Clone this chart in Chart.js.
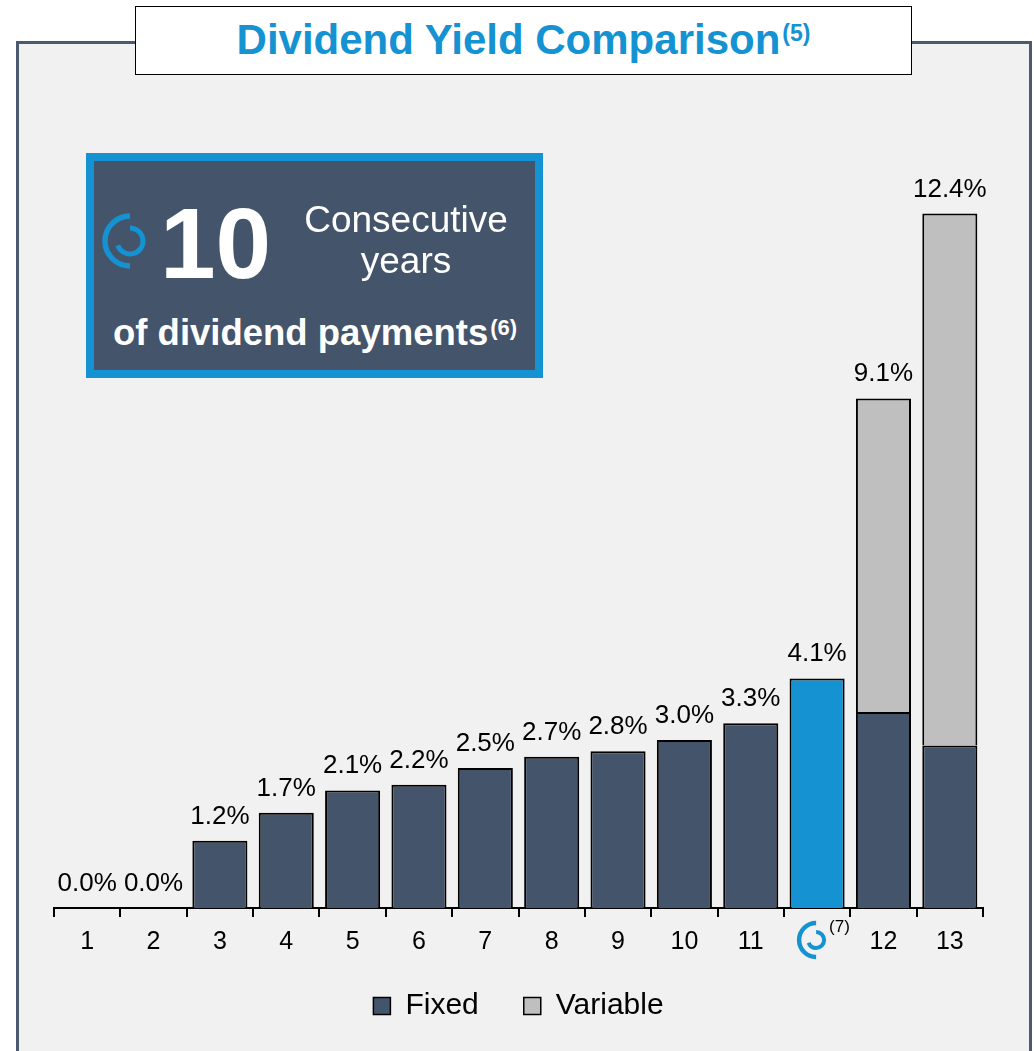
<!DOCTYPE html>
<html>
<head>
<meta charset="utf-8">
<script src="https://cdn.jsdelivr.net/npm/chart.js@4.4.0/dist/chart.umd.min.js"></script>
<style>
  html, body { margin: 0; padding: 0; background: #fff; }
  body { width: 1034px; height: 1051px; position: relative; overflow: hidden;
         font-family: "Liberation Sans", Arial, sans-serif; }
  .panel { position: absolute; left: 16px; top: 41px; width: 1010px; height: 1020px;
           background: #f1f1f1; border: 3px solid #4b5a6e; border-bottom: none; }
  #chart { position: absolute; left: 0; top: 0; }
  .title { position: absolute; left: 135px; top: 6px; width: 775px; height: 67px;
           background: #fff; border: 1.5px solid #000; text-align: center;
           color: #1592d2; font-weight: bold; font-size: 42px; line-height: 66px; }
  .title sup { font-size: 23px; position: relative; top: -13px; margin-left: 2px;
               vertical-align: baseline; line-height: 0; }
  .inset { position: absolute; left: 86px; top: 153px; width: 457px; height: 225px;
           box-sizing: border-box; border: 8px solid #1592d2; background: #44546a; }
  .txt { position: absolute; color: #fff; white-space: nowrap; }
  .big { left: 160px; top: 193px; font-size: 100px; line-height: 100px; font-weight: bold; }
  .cons { left: 256px; width: 300px; text-align: center; font-size: 37px; line-height: 37px; }
  .pay { left: 113px; top: 315px; font-size: 36.5px; line-height: 36px; font-weight: bold; }
  .pay sup { font-size: 22px; position: relative; top: -10px; margin-left: 2px;
             vertical-align: baseline; line-height: 0; }
  .logo { position: absolute; left: 0; top: 0; }
</style>
</head>
<body>
<div class="panel"></div>
<canvas id="chart" width="1034" height="1051"></canvas>
<div class="title">Dividend Yield Comparison<sup>(5)</sup></div>
<div class="inset"></div>
<svg class="logo" width="1034" height="400">
  <path d="M130 216 A25 25 0 0 0 130 266" fill="none" stroke="#1592d2" stroke-width="5.5"/>
  <path d="M130 228 A13 13 0 1 1 117.8 245.4" fill="none" stroke="#1592d2" stroke-width="5"/>
</svg>
<div class="txt big">10</div>
<div class="txt cons" style="top:201px">Consecutive</div>
<div class="txt cons" style="top:242px">years</div>
<div class="txt pay">of dividend payments<sup>(6)</sup></div>

<script>
// chart data
const categories = ['1', '2', '3', '4', '5', '6', '7', '8', '9', '10', '11', '', '12', '13'];
const fixedValues = [0, 0, 1.2, 1.7, 2.1, 2.2, 2.5, 2.7, 2.8, 3.0, 3.3, 4.1, 3.5, 2.9];
const variableValues = [0, 0, 0, 0, 0, 0, 0, 0, 0, 0, 0, 0, 5.6, 9.5];
const logoIndex = 11;
const logoNote = '(7)';

const DARK = '#44546a';
const BLUE = '#1592d2';
const GREY = '#bfbfbf';
const FONT = '"Liberation Sans", Arial, sans-serif';

const fixedColors = fixedValues.map((v, i) => i === logoIndex ? BLUE : DARK);

// totals above each stack
const totalLabelsPlugin = {
  id: 'totalLabels',
  afterDatasetsDraw(chart) {
    const { ctx, scales: { x, y } } = chart;
    ctx.save();
    ctx.font = '26px ' + FONT;
    ctx.fillStyle = '#000';
    ctx.textAlign = 'center';
    ctx.textBaseline = 'alphabetic';
    fixedValues.forEach((v, i) => {
      const total = v + variableValues[i];
      ctx.fillText(total.toFixed(1) + '%', x.getPixelForValue(i), y.getPixelForValue(total) - 17);
    });
    ctx.restore();
  }
};

// company logo in place of the tick label
const logoTickPlugin = {
  id: 'logoTick',
  afterDraw(chart) {
    const { ctx, scales: { x } } = chart;
    const cx = x.getPixelForValue(logoIndex) - 1;
    const cy = x.top + 32;
    ctx.save();
    ctx.strokeStyle = BLUE;
    ctx.lineWidth = 4.5;
    ctx.beginPath();
    ctx.arc(cx, cy, 17, -Math.PI / 2, Math.PI / 2, true);
    ctx.stroke();
    ctx.lineWidth = 4;
    ctx.beginPath();
    ctx.arc(cx, cy, 8, -Math.PI / 2, Math.PI * 160 / 180, false);
    ctx.stroke();
    ctx.fillStyle = '#000';
    ctx.font = '17px ' + FONT;
    ctx.textAlign = 'left';
    ctx.textBaseline = 'top';
    ctx.fillText(logoNote, cx + 13, cy - 21);
    ctx.restore();
  }
};

new Chart(document.getElementById('chart'), {
  type: 'bar',
  data: {
    labels: categories,
    datasets: [
      {
        label: 'Fixed',
        data: fixedValues,
        backgroundColor: fixedColors,
        borderColor: '#000',
        borderWidth: 2,
        categoryPercentage: 1,
        barPercentage: 0.83
      },
      {
        label: 'Variable',
        data: variableValues,
        backgroundColor: GREY,
        borderColor: '#000',
        borderWidth: 2,
        categoryPercentage: 1,
        barPercentage: 0.83
      }
    ]
  },
  options: {
    responsive: false,
    animation: false,
    devicePixelRatio: 1,
    layout: { padding: { top: 124, left: 54, right: 51, bottom: 20 } },
    scales: {
      x: {
        stacked: true,
        grid: { display: true, drawOnChartArea: false, drawTicks: true, tickLength: 9, color: '#000', lineWidth: 2 },
        border: { display: true, color: '#000', width: 2 },
        ticks: { color: '#000', font: { family: FONT, size: 25 }, padding: 10, maxRotation: 0, autoSkip: false }
      },
      y: { stacked: true, display: false, min: 0, max: 14 }
    },
    plugins: {
      tooltip: { enabled: false },
      legend: {
        position: 'bottom',
        labels: {
          color: '#000',
          font: { family: FONT, size: 30 },
          boxWidth: 17,
          boxHeight: 17,
          padding: 24,
          generateLabels(chart) {
            const items = Chart.defaults.plugins.legend.labels.generateLabels(chart);
            const fills = [DARK, GREY];
            items.forEach((it, i) => {
              it.fillStyle = fills[i];
              it.strokeStyle = '#000';
              it.lineWidth = 1.5;
              if (i < items.length - 1) it.text += '\u2002\u2009';
            });
            return items;
          }
        }
      }
    }
  },
  plugins: [totalLabelsPlugin, logoTickPlugin]
});
</script>
</body>
</html>
